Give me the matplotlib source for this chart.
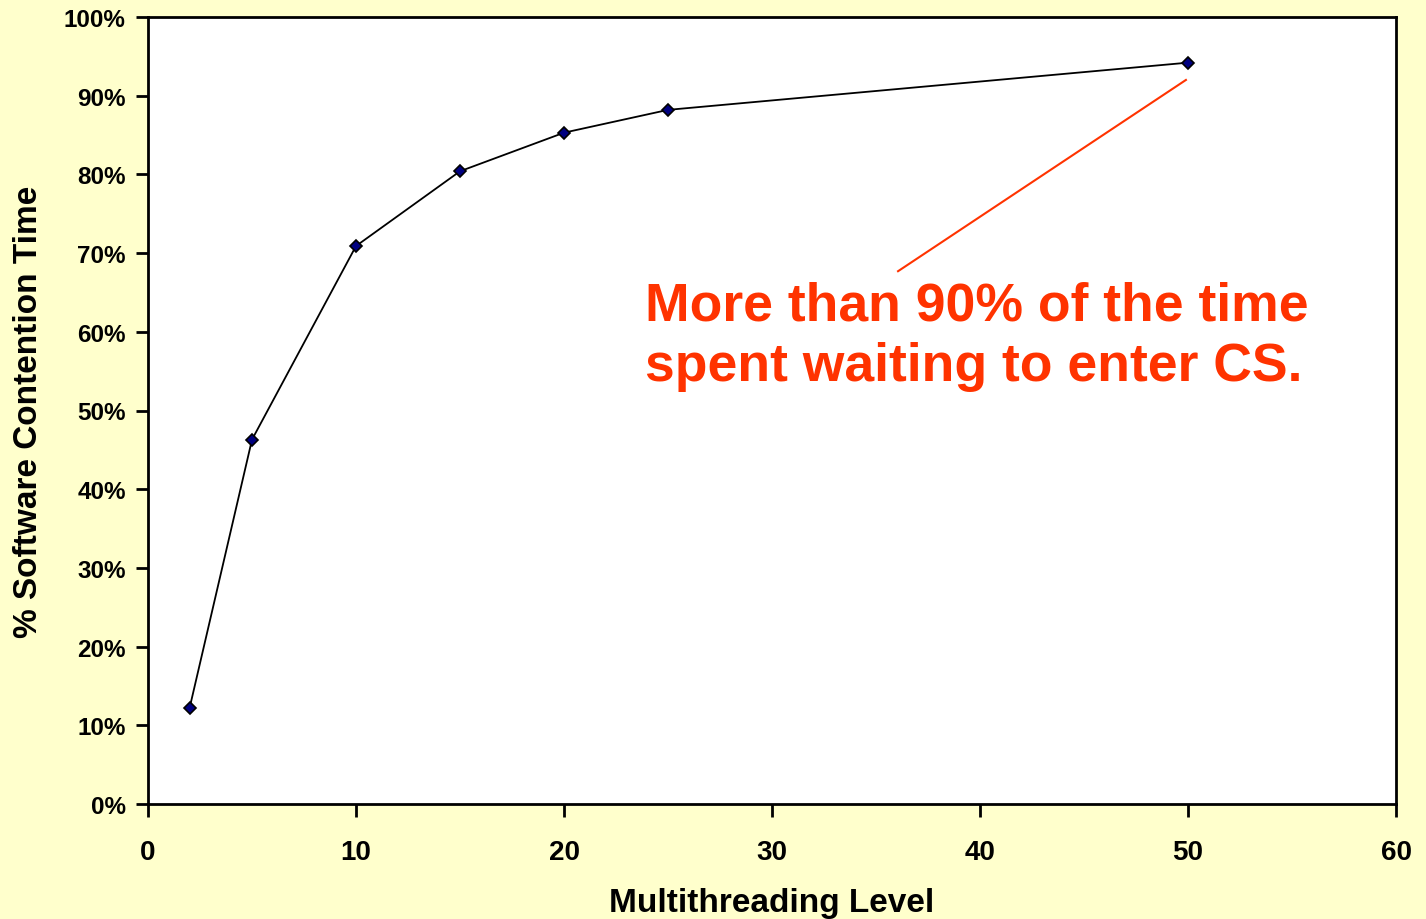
import matplotlib
matplotlib.use("Agg")
import matplotlib.pyplot as plt
from matplotlib.ticker import FuncFormatter

# data
threads = [2, 5, 10, 15, 20, 25, 50]
contention = [12.2, 46.3, 70.9, 80.4, 85.3, 88.2, 94.2]

x_ticks = [0, 10, 20, 30, 40, 50, 60]
y_ticks = [0, 10, 20, 30, 40, 50, 60, 70, 80, 90, 100]

note_lines = ["More than 90% of the time", "spent waiting to enter CS."]

plt.rcParams['font.family'] = ['Liberation Sans', 'DejaVu Sans']
plt.rcParams['font.weight'] = 'bold'

bg = '#FFFFCC'
red = '#FF3300'

fig = plt.figure(figsize=(14.26, 9.2), dpi=100, facecolor=bg)
ax = fig.add_axes([148/1426, 1-805/920, (1396-148)/1426, (805-18)/920])
ax.set_facecolor('white')

ax.plot(threads, contention, '-', color='black', lw=1.3, zorder=2)
ax.plot(threads, contention, 'D', ms=6.5, markerfacecolor='#000080',
        markeredgecolor='black', markeredgewidth=1.2, zorder=3)

ax.set_xlim(0, 60)
ax.set_ylim(0, 100)
ax.set_xticks(x_ticks)
ax.set_yticks(y_ticks)
ax.yaxis.set_major_formatter(FuncFormatter(lambda v, p: '%d%%' % v))

for s in ax.spines.values():
    s.set_linewidth(2)
ax.tick_params(direction='out', length=9, width=2, labelsize=17.5, pad=7)
ax.tick_params(axis='x', labelsize=20, pad=16)

ax.set_xlabel('Multithreading Level', fontsize=24, fontweight='bold', labelpad=16)
ax.set_ylabel('% Software Contention Time', fontsize=24, fontweight='bold', labelpad=14)

# annotation pointer
ax.plot([36.06, 49.9], [67.7, 92.0], color=red, lw=1.5, zorder=1)
ax.text(23.9, 61.6, note_lines[0], color=red, fontsize=38.5, fontweight='bold',
        ha='left', va='baseline')
ax.text(23.9, 53.9, note_lines[1], color=red, fontsize=38.5, fontweight='bold',
        ha='left', va='baseline')

fig.savefig('out.png', dpi=100, facecolor=bg)
